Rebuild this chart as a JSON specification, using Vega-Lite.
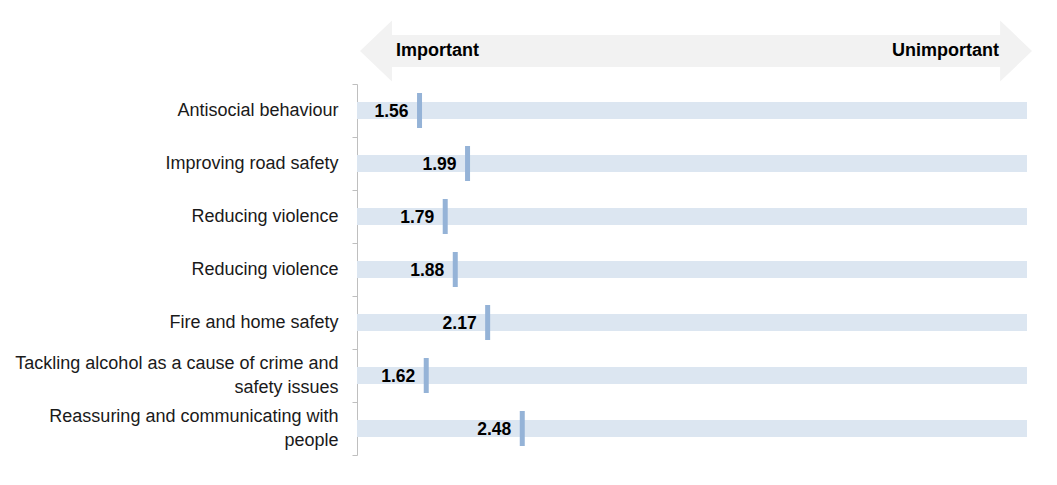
{
  "$schema": "https://vega.github.io/schema/vega-lite/v6.json",
  "autosize": {"type": "pad"},
  "padding": {"left": 14, "top": 18, "right": 5, "bottom": 5},
  "background": "white",
  "bounds": "flush",
  "spacing": 0,
  "config": {"view": {"stroke": null}, "font": "Liberation Sans"},
  "vconcat": [
    {
      "width": 670,
      "height": 66,
      "data": {"values": [{}]},
      "layer": [
        {
          "mark": {"type": "point", "shape": "M-1,0L-0.905,-0.0908L-0.905,-0.0476L0.905,-0.0476L0.905,-0.0908L1,0L0.905,0.0908L0.905,0.0476L-0.905,0.0476L-0.905,0.0908Z", "size": 451584, "filled": true, "fill": "#f2f2f2", "strokeWidth": 0, "opacity": 1},
          "encoding": {"x": {"datum": 4.036, "type": "quantitative", "scale": {"domain": [1, 7], "nice": false, "zero": false}, "axis": null}}
        },
        {
          "mark": {"type": "text", "text": "Important", "align": "left", "baseline": "middle", "fontWeight": "bold", "fontSize": 18, "color": "#000000"},
          "encoding": {"x": {"datum": 1.349, "type": "quantitative"}}
        },
        {
          "mark": {"type": "text", "text": "Unimportant", "align": "right", "baseline": "middle", "fontWeight": "bold", "fontSize": 18, "color": "#000000"},
          "encoding": {"x": {"datum": 6.749, "type": "quantitative"}}
        }
      ]
    },
    {
      "width": 670,
      "height": 371,
      "data": {"values": [
        {"cat": "Antisocial behaviour", "value": 1.56},
        {"cat": "Improving road safety", "value": 1.99},
        {"cat": "Reducing violence", "value": 1.79},
        {"cat": "Reducing violence ", "value": 1.88},
        {"cat": "Fire and home safety", "value": 2.17},
        {"cat": "Tackling alcohol as a cause of crime and|safety issues", "value": 1.62},
        {"cat": "Reassuring and communicating with|people", "value": 2.48}
      ]},
      "encoding": {
        "y": {"field": "cat", "type": "nominal", "sort": null,
          "scale": {"paddingInner": 0, "paddingOuter": 0},
          "axis": {"title": null, "domainColor": "#bfbfbf", "tickColor": "#bfbfbf", "tickSize": 5, "tickBand": "extent", "labelPadding": 14, "labelFontSize": 18, "labelColor": "#1a1a1a", "labelLimit": 400, "labelLineHeight": 24,
            "labelExpr": "datum.value ? split(trim(datum.value), '|') : ''",
            "labelOffset": {"condition": {"test": "datum.value && indexof(datum.value, '|') >= 0", "value": -12}, "value": 0},
            "domainWidth": 1, "tickWidth": 1}}
      },
      "layer": [
        {
          "mark": {"type": "bar", "height": 17, "color": "#dce6f1"},
          "encoding": {"x": {"datum": 1, "type": "quantitative", "scale": {"domain": [1, 7], "nice": false, "zero": false}, "axis": null}, "x2": {"datum": 7}}
        },
        {
          "mark": {"type": "tick", "orient": "vertical", "thickness": 5, "size": 35, "color": "#95b3d7", "opacity": 1},
          "encoding": {"x": {"field": "value", "type": "quantitative"}}
        },
        {
          "mark": {"type": "text", "align": "right", "baseline": "middle", "dx": -11, "dy": 1, "fontWeight": "bold", "fontSize": 17.5, "color": "#000000"},
          "encoding": {"x": {"field": "value", "type": "quantitative"}, "text": {"field": "value", "type": "quantitative", "format": ".2f"}}
        }
      ]
    }
  ]
}
